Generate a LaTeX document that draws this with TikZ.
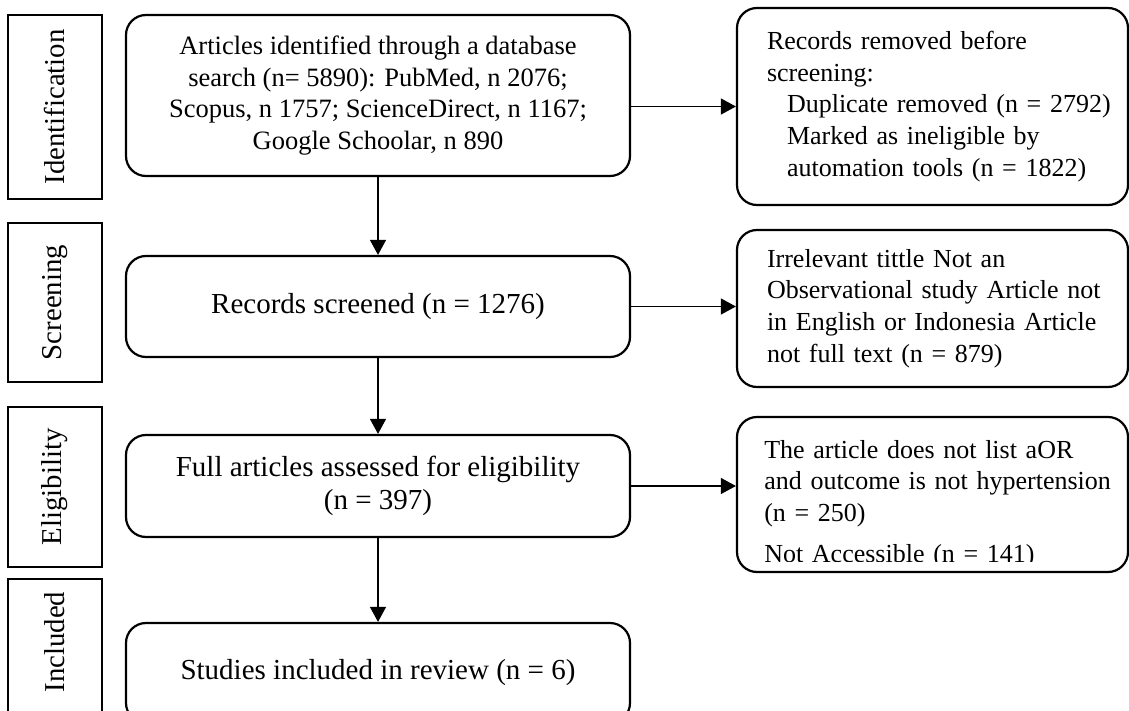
\documentclass[tikz,border=0pt]{standalone}
\usepackage{fontspec}
\setmainfont{Liberation Serif}
\usetikzlibrary{arrows.meta}
\tikzset{
  lbl/.style={draw, line width=1.1pt, rotate=90, minimum height=47pt, inner sep=0pt,
    font=\fontsize{14.4}{16}\selectfont},
  mbox/.style={draw, line width=1.1pt, rounded corners=10pt, minimum width=252pt,
    align=center, inner sep=0pt, font=\fontsize{14.5}{16.5}\selectfont},
  rbox/.style={draw, line width=1.1pt, rounded corners=10pt, text width=165.5pt,
    inner xsep=15pt, inner ysep=0pt, align=left, font=\fontsize{13}{15.8}\selectfont},
  rtext/.style={inner sep=0pt, text width=165.5pt, align=left, font=\fontsize{13}{15.8}\selectfont},
  arr/.style={line width=0.6pt, -{Triangle[length=7.5pt,width=8pt]}}
}
\begin{document}
\begin{tikzpicture}[x=0.5pt,y=-0.5pt]
\clip (0,0) rectangle (1129,711);
% stage labels
\node[lbl, minimum width=92pt] (L1) at (55,107) {Identification};
\node[lbl, minimum width=79.5pt] (L2) at (55,302.5) {Screening};
\node[lbl, minimum width=80pt] (L3) at (55,487) {Eligibility};
\node[lbl, minimum width=70.5pt] (L4) at (55,649.5) {\hspace*{7.5pt}Included};
% main column
\node[mbox, minimum height=80.5pt, font=\fontsize{13.25}{15.8}\selectfont] (M1) at (378,95.5)
  {Articles identified through a database\\search (n= 5890): PubMed, n 2076;\\Scopus, n 1757; ScienceDirect, n 1167;\\Google Schoolar, n 890};
\node[mbox, minimum height=50.5pt] (M2) at (378,306.5) {Records screened (n = 1276)};
\node[mbox, minimum height=51pt] (M3) at (378,486) {Full articles assessed for eligibility\\(n = 397)};
\node[mbox, minimum height=50pt] (M4) at (378,673) {Studies included in review (n = 6)};
% right column
\node[rbox, minimum height=98.5pt] (R1) at (932.5,106.5)
  {\mbox{Records removed before}\\\mbox{screening:}\\
   \mbox{\hspace*{10pt}Duplicate removed (n = 2792)}\\
   \mbox{\hspace*{10pt}Marked as ineligible by}\\
   \mbox{\hspace*{10pt}automation tools (n = 1822)}};
\node[rbox, minimum height=78.5pt] (R2) at (932.5,308.5)
  {\mbox{Irrelevant tittle Not an}\\\mbox{Observational study Article not}\\
   \mbox{in English or Indonesia Article}\\\mbox{not full text (n = 879)}};
\node[rbox, minimum height=77.5pt] (R3) at (932.5,494.5) {};
\begin{scope}
  \clip (R3.north west) rectangle (1129,561);
  \node[rtext, anchor=north west] (R3t) at ([xshift=14pt,yshift=-12pt]R3.north west)
    {\mbox{The article does not list aOR}\\\mbox{and outcome is not hypertension}\\
     \mbox{(n = 250)}\\[4.5pt]\mbox{Not Accessible (n = 141)}};
\end{scope}
% connectors
\draw[arr] (M1.south) -- (M2.north);
\draw[arr] (M2.south) -- (M3.north);
\draw[arr] (M3.south) -- (M4.north);
\draw[arr] (M1.east |- R1.west) -- (R1.west);
\draw[arr] (M2.east) -- (M2.east -| R2.west);
\draw[arr] (M3.east) -- (M3.east -| R3.west);
\end{tikzpicture}
\end{document}
